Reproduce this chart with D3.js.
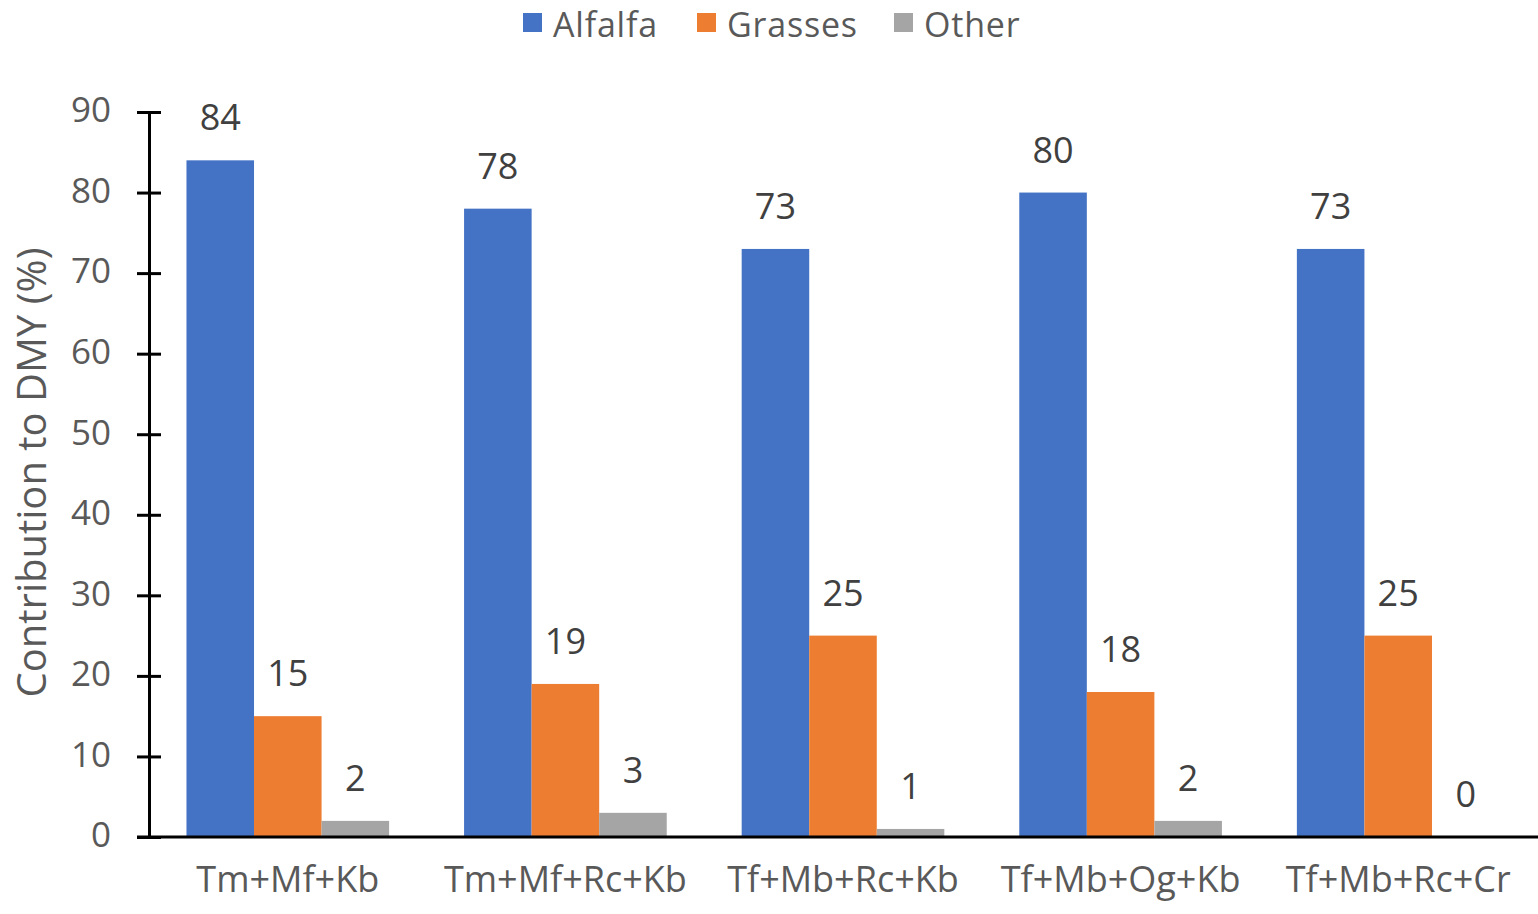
<!DOCTYPE html>
<html>
<head>
<meta charset="utf-8">
<script src="https://cdn.jsdelivr.net/npm/d3@7"></script>
<style>
  html, body { margin: 0; padding: 0; background: #fff; }
  svg { display: block; font-family: "Open Sans", Lato, sans-serif; }
</style>
</head>
<body>
<svg id="chart" width="1538" height="914"></svg>
<script>
// Species mixtures and their contribution to dry matter yield (%)
const mixtures = ["Tm+Mf+Kb", "Tm+Mf+Rc+Kb", "Tf+Mb+Rc+Kb", "Tf+Mb+Og+Kb", "Tf+Mb+Rc+Cr"];
const seriesNames = ["Alfalfa", "Grasses", "Other"];
const alfalfa = [84, 78, 73, 80, 73];
const grasses = [15, 19, 25, 18, 25];
const other = [2, 3, 1, 2, 0];
const yTicks = [0, 10, 20, 30, 40, 50, 60, 70, 80, 90];
const colors = ["#4472C4", "#ED7D31", "#A5A5A5"];

const seriesValues = [alfalfa, grasses, other];
const rows = mixtures.map((m, i) => ({
  mixture: m,
  values: seriesNames.map((s, j) => ({ series: s, value: seriesValues[j][i] }))
}));

const svg = d3.select("#chart");
const margin = { left: 149, right: 1, top: 112, bottom: 77 };
const W = 1538, H = 914;
const font = "'Open Sans', Lato, sans-serif";

const x0 = d3.scaleBand()
  .domain(mixtures)
  .range([margin.left, W - margin.right])
  .paddingInner(0.27)
  .paddingOuter(0.135);
const x1 = d3.scaleBand()
  .domain(seriesNames)
  .range([0, x0.bandwidth()]);
const y = d3.scaleLinear()
  .domain([0, 90])
  .range([H - margin.bottom, margin.top]);
const color = d3.scaleOrdinal().domain(seriesNames).range(colors);

const textColor = "#595959";

// Bars
const groups = svg.append("g").selectAll("g")
  .data(rows).join("g")
  .attr("transform", d => `translate(${x0(d.mixture)},0)`);

groups.selectAll("rect")
  .data(d => d.values).join("rect")
  .attr("x", d => x1(d.series))
  .attr("width", x1.bandwidth())
  .attr("y", d => y(d.value))
  .attr("height", d => y(0) - y(d.value))
  .attr("fill", d => color(d.series));

// Value labels
groups.selectAll("text")
  .data(d => d.values).join("text")
  .attr("x", d => x1(d.series) + x1.bandwidth() / 2)
  .attr("y", d => y(d.value) - 30)
  .attr("text-anchor", "middle")
  .attr("font-size", 36)
  .attr("fill", "#404040")
  .text(d => d.value);

// Y axis
const yAxis = svg.append("g")
  .attr("transform", `translate(${margin.left},0)`)
  .call(d3.axisLeft(y).tickValues(yTicks).tickSize(0).tickPadding(38));
yAxis.select(".domain").attr("stroke", "#000").attr("stroke-width", 3);
yAxis.selectAll(".tick line").remove();
yAxis.selectAll(".tick").append("line")
  .attr("x1", -12).attr("x2", 12)
  .attr("stroke", "#000").attr("stroke-width", 3);
yAxis.selectAll(".tick text")
  .attr("font-size", 35)
  .attr("font-family", font)
  .attr("fill", textColor)
  .attr("dy", "0.28em");

// X axis
const xAxis = svg.append("g")
  .attr("transform", `translate(0,${y(0)})`)
  .call(d3.axisBottom(x0).tickSize(0).tickPadding(29));
xAxis.select(".domain").remove();
xAxis.append("line")
  .attr("x1", margin.left - 12).attr("x2", W)
  .attr("stroke", "#000").attr("stroke-width", 3);
xAxis.selectAll(".tick text")
  .attr("font-size", 36)
  .attr("font-family", font)
  .attr("fill", textColor);

// Y axis title
svg.append("text")
  .attr("transform", `translate(46,${(y(0) + y(90)) / 2 - 2}) rotate(-90)`)
  .attr("text-anchor", "middle")
  .attr("font-size", 40)
  .attr("fill", textColor)
  .text("Contribution to DMY (%)");

// Legend
const legendX = [523, 697, 894];
const legend = svg.append("g").selectAll("g")
  .data(seriesNames).join("g")
  .attr("transform", (d, i) => `translate(${legendX[i]},13)`);
legend.append("rect")
  .attr("width", 19).attr("height", 19)
  .attr("fill", d => color(d));
legend.append("text")
  .attr("x", 30).attr("y", 24)
  .attr("font-size", 34)
  .attr("letter-spacing", 0.8)
  .attr("fill", textColor)
  .text(d => d);
</script>
</body>
</html>
